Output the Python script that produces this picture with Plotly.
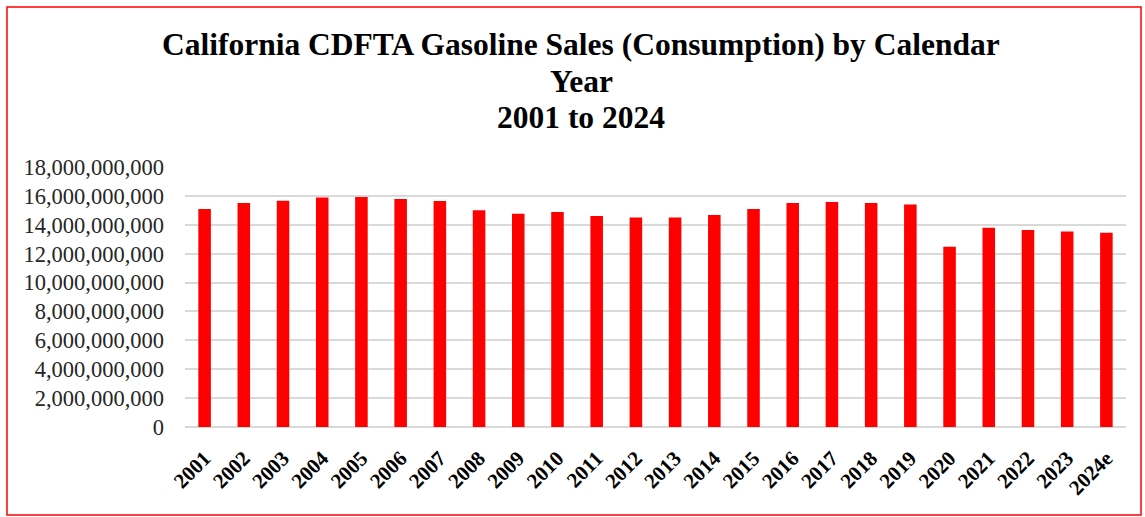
import plotly.graph_objects as go

years = ["2001", "2002", "2003", "2004", "2005", "2006", "2007", "2008", "2009", "2010",
         "2011", "2012", "2013", "2014", "2015", "2016", "2017", "2018", "2019", "2020",
         "2021", "2022", "2023", "2024e"]
gallons = [15.10e9, 15.51e9, 15.67e9, 15.88e9, 15.93e9, 15.79e9, 15.65e9, 15.00e9, 14.77e9, 14.89e9,
           14.61e9, 14.51e9, 14.51e9, 14.68e9, 15.10e9, 15.51e9, 15.58e9, 15.51e9, 15.40e9, 12.48e9,
           13.80e9, 13.64e9, 13.54e9, 13.45e9]
y_ticks = [0, 2e9, 4e9, 6e9, 8e9, 10e9, 12e9, 14e9, 16e9, 18e9]
title_lines = ["California CDFTA Gasoline Sales (Consumption) by Calendar", "Year", "2001 to 2024"]

W, H = 1145, 517
L, R, T, B = 185, 19, 167, 90

fig = go.Figure(go.Bar(x=years, y=gallons, marker=dict(color="#ff0000", line=dict(width=0))))

pw = W - L - R
ph = H - T - B
def px(x):
    return (x - L) / pw
def py(y):
    return (H - B - y) / ph

title_y = [45, 81, 117]
annotations = [
    dict(text="<b>%s</b>" % t, xref="paper", yref="paper", x=px(581), y=py(yy),
         xanchor="center", yanchor="middle", showarrow=False,
         font=dict(family="Liberation Serif", size=31.5, color="#000000"))
    for t, yy in zip(title_lines, title_y)
]

fig.update_layout(
    width=W, height=H,
    margin=dict(l=L, r=R, t=T, b=B),
    paper_bgcolor="white", plot_bgcolor="white",
    bargap=0.68,
    showlegend=False,
    annotations=annotations,
    xaxis=dict(
        type="category", tickangle=-45,
        tickfont=dict(family="Liberation Serif", size=21, color="#000000", weight="bold"),
        showgrid=False, showline=False, ticks="",
        ticklabelstandoff=14,
    ),
    yaxis=dict(
        range=[0, 18e9], tickvals=y_ticks, tickformat=",d",
        tickfont=dict(family="Liberation Serif", size=22.5, color="#262626"),
        showgrid=True, gridcolor="#d9d9d9", gridwidth=1.8,
        zeroline=True, zerolinecolor="#d9d9d9", zerolinewidth=1.8,
        showline=False, ticks="", ticklabelstandoff=20,
    ),
    shapes=[dict(type="rect", xref="paper", yref="paper",
                 x0=px(7), x1=px(1141), y0=py(515), y1=py(7),
                 line=dict(color="#ff0000", width=1.5), layer="below")],
)

fig.write_html("out.html")
